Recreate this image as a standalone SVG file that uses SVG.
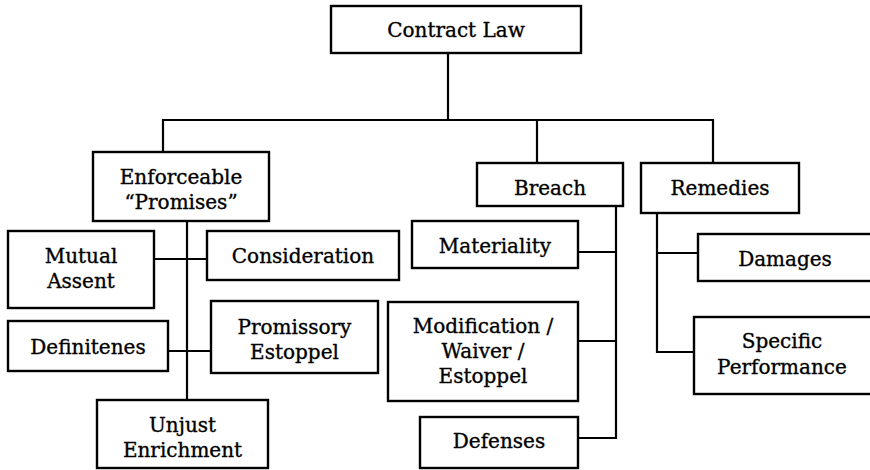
<svg xmlns="http://www.w3.org/2000/svg" width="870" height="470" viewBox="0 0 870 470">
  <style>
    .box { fill: #ffffff; stroke: #000000; stroke-width: 2.4; }
    .link { fill: none; stroke: #000000; stroke-width: 2.2; }
    text { font-family: "DejaVu Serif", "Liberation Serif", serif; font-size: 20px; fill: #000000; stroke: #000000; stroke-width: 0.35; text-anchor: middle; }
  </style>
  <rect x="0" y="0" width="870" height="470" fill="#ffffff"/>

  <!-- connectors -->
  <g id="connectors">
    <!-- root to the three main branches -->
    <polyline class="link" points="448,53 448,120"/>
    <polyline class="link" points="163,152 163,120 713,120 713,163"/>
    <polyline class="link" points="537,120 537,163"/>
    <!-- Enforceable "Promises" spine -->
    <polyline class="link" points="187,221 187,400"/>
    <polyline class="link" points="154,259 207,259"/>
    <polyline class="link" points="168,351 211,351"/>
    <!-- Breach spine -->
    <polyline class="link" points="616,206 616,438 578,438"/>
    <polyline class="link" points="578,252 616,252"/>
    <polyline class="link" points="578,341 616,341"/>
    <!-- Remedies spine -->
    <polyline class="link" points="657,213 657,352 694,352"/>
    <polyline class="link" points="657,253 698,253"/>
  </g>

  <g id="contract-law">
    <rect class="box" x="331" y="6" width="250" height="47"/>
    <text x="456" y="37">Contract Law</text>
  </g>

  <g id="enforceable-promises">
    <rect class="box" x="93" y="152" width="176" height="69"/>
    <text x="181" y="184">Enforceable</text>
    <text x="181" y="209">“Promises”</text>
  </g>

  <g id="breach">
    <rect class="box" x="477" y="163" width="146" height="43"/>
    <text x="550" y="195">Breach</text>
  </g>

  <g id="remedies">
    <rect class="box" x="641" y="163" width="158" height="50"/>
    <text x="720" y="195">Remedies</text>
  </g>

  <g id="mutual-assent">
    <rect class="box" x="8" y="231" width="146" height="77"/>
    <text x="81" y="263">Mutual</text>
    <text x="81" y="288">Assent</text>
  </g>

  <g id="consideration">
    <rect class="box" x="207" y="231" width="192" height="49"/>
    <text x="303" y="263">Consideration</text>
  </g>

  <g id="definitenes">
    <rect class="box" x="8" y="321" width="160" height="50"/>
    <text x="88" y="354">Definitenes</text>
  </g>

  <g id="promissory-estoppel">
    <rect class="box" x="211" y="301" width="167" height="72"/>
    <text x="294.5" y="334">Promissory</text>
    <text x="294.5" y="359">Estoppel</text>
  </g>

  <g id="unjust-enrichment">
    <rect class="box" x="97" y="400" width="171" height="68"/>
    <text x="182.5" y="432">Unjust</text>
    <text x="182.5" y="457">Enrichment</text>
  </g>

  <g id="materiality">
    <rect class="box" x="412" y="221" width="166" height="47"/>
    <text x="495" y="253">Materiality</text>
  </g>

  <g id="modification-waiver-estoppel">
    <rect class="box" x="388" y="302" width="190" height="99"/>
    <text x="483" y="333">Modification /</text>
    <text x="483" y="358">Waiver /</text>
    <text x="483" y="383">Estoppel</text>
  </g>

  <g id="defenses">
    <rect class="box" x="420" y="417" width="158" height="51"/>
    <text x="499" y="448">Defenses</text>
  </g>

  <g id="damages">
    <rect class="box" x="698" y="234" width="175" height="47"/>
    <text x="785" y="266">Damages</text>
  </g>

  <g id="specific-performance">
    <rect class="box" x="694" y="317" width="178" height="77"/>
    <text x="782" y="348">Specific</text>
    <text x="782" y="374">Performance</text>
  </g>
</svg>
